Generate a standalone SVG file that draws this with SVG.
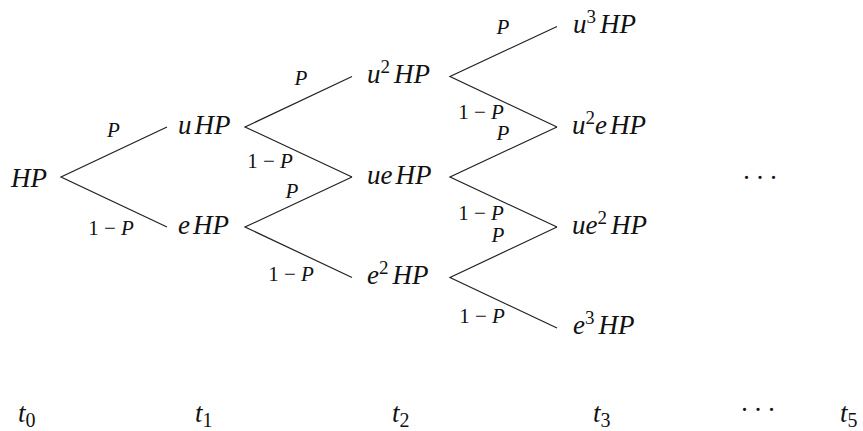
<svg xmlns="http://www.w3.org/2000/svg" width="863" height="431" viewBox="0 0 863 431">
<style>
.n{font-family:"Liberation Serif","Times New Roman",serif;font-size:27px;font-style:italic;fill:#111}
.s{font-style:normal;font-size:19px}
.b{font-style:normal;font-size:20px}
.l{font-family:"Liberation Serif","Times New Roman",serif;font-size:21px;fill:#111;text-anchor:middle}
.i{font-style:italic}
.e{stroke:#222;stroke-width:1.2;fill:none}
.d{font-family:"Liberation Serif",serif;font-size:27px;fill:#111}
</style>
<rect width="863" height="431" fill="#fff"/>
<g id="connectors">
<path class="e" d="M167,127 L61,177 L167,227"/>
<path class="e" d="M352,76.5 L245,127 L352,177"/>
<path class="e" d="M352,177 L245,227 L352,277.5"/>
<path class="e" d="M557,26.5 L450,76.5 L557,127"/>
<path class="e" d="M557,127 L450,177 L557,227"/>
<path class="e" d="M557,227 L450,277.5 L557,328"/>
</g>
<g id="edge-labels">
<text class="l" x="113.5" y="137"><tspan class="i">P</tspan></text>
<text class="l" x="111" y="235">1 − <tspan class="i">P</tspan></text>
<text class="l" x="301" y="85"><tspan class="i">P</tspan></text>
<text class="l" x="270" y="168">1 − <tspan class="i">P</tspan></text>
<text class="l" x="292" y="198"><tspan class="i">P</tspan></text>
<text class="l" x="291" y="281">1 − <tspan class="i">P</tspan></text>
<text class="l" x="503" y="34"><tspan class="i">P</tspan></text>
<text class="l" x="481" y="119">1 − <tspan class="i">P</tspan></text>
<text class="l" x="503" y="140"><tspan class="i">P</tspan></text>
<text class="l" x="481" y="220">1 − <tspan class="i">P</tspan></text>
<text class="l" x="498" y="242"><tspan class="i">P</tspan></text>
<text class="l" x="482" y="323">1 − <tspan class="i">P</tspan></text>
</g>
<g id="n-HP"><text class="n" x="11" y="187">HP</text></g>
<g id="n-uHP"><text class="n" x="178" y="134">u<tspan dx="3">HP</tspan></text></g>
<g id="n-eHP"><text class="n" x="178" y="234">e<tspan dx="3">HP</tspan></text></g>
<g id="n-u2HP"><text class="n" x="367" y="83">u<tspan class="s" dy="-10">2</tspan><tspan dx="4" dy="10">HP</tspan></text></g>
<g id="n-ueHP"><text class="n" x="367" y="184">ue<tspan dx="3">HP</tspan></text></g>
<g id="n-e2HP"><text class="n" x="367" y="284">e<tspan class="s" dy="-10">2</tspan><tspan dx="4" dy="10">HP</tspan></text></g>
<g id="n-u3HP"><text class="n" x="573" y="33">u<tspan class="s" dy="-10">3</tspan><tspan dx="4" dy="10">HP</tspan></text></g>
<g id="n-u2eHP"><text class="n" x="572" y="134">u<tspan class="s" dy="-10">2</tspan><tspan dy="10">e</tspan><tspan dx="3">HP</tspan></text></g>
<g id="n-ue2HP"><text class="n" x="572" y="234">ue<tspan class="s" dy="-10">2</tspan><tspan dx="4" dy="10">HP</tspan></text></g>
<g id="n-e3HP"><text class="n" x="573" y="334">e<tspan class="s" dy="-10">3</tspan><tspan dx="4" dy="10">HP</tspan></text></g>
<g id="n-dots"><text class="d" x="742 755.5 769" y="187">···</text></g>
<g id="time-axis">
<text class="n" x="18" y="422">t<tspan class="b" dy="5">0</tspan></text>
<text class="n" x="195" y="422">t<tspan class="b" dy="5">1</tspan></text>
<text class="n" x="392" y="422">t<tspan class="b" dy="5">2</tspan></text>
<text class="n" x="593" y="422">t<tspan class="b" dy="5">3</tspan></text>
<text class="d" x="740 753.5 767" y="419">···</text>
<text class="n" x="840" y="422">t<tspan class="b" dy="5">5</tspan></text>
</g>
</svg>
